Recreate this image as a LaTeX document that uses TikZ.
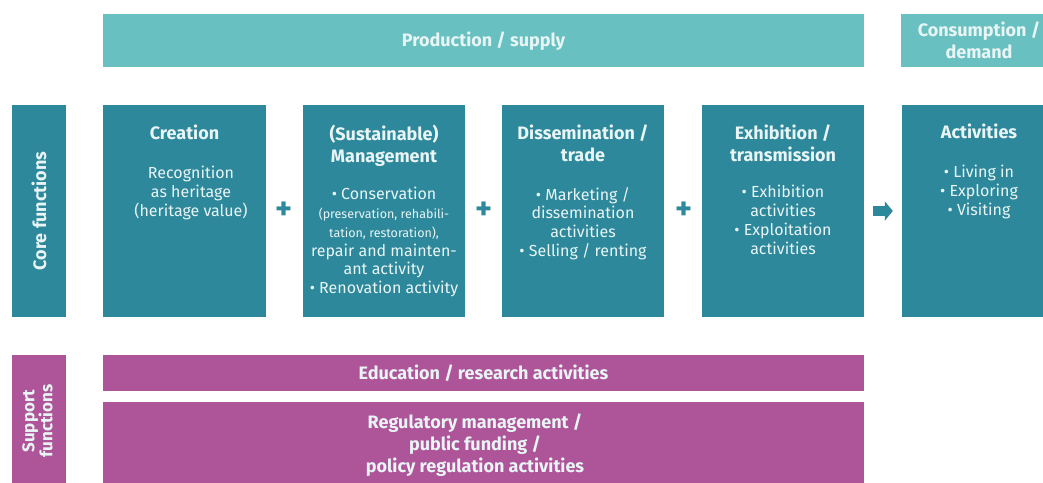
\documentclass[tikz,border=0pt]{standalone}
\usepackage{fontspec}
\setmainfont{Fira Sans}
\usetikzlibrary{positioning,arrows.meta}
\definecolor{lightteal}{HTML}{69C0C1}
\definecolor{darkteal}{HTML}{2D889B}
\definecolor{supportpink}{HTML}{AE5499}
\definecolor{paletext}{HTML}{E9F5F5}
\begin{document}
\begin{tikzpicture}[x = 1pt, y = -1pt,
    bar/.style = {fill = lightteal, inner sep = 0pt},
    corebox/.style = {fill = darkteal, inner sep = 0pt, minimum height = 212pt},
    supbar/.style = {fill = supportpink, inner sep = 0pt},
    headtext/.style = {text = paletext, inner sep = 0pt, align = center, font = \bfseries\fontsize{18}{22}\selectfont},
    bodytext/.style = {text = paletext, inner sep = 0pt, align = center, font = \fontsize{16}{18.8}\selectfont},
    plussign/.style = {text = darkteal, inner sep = 0pt, font = \bfseries\fontsize{32}{32}\selectfont}]
    \useasboundingbox (0,0) rectangle (1043,482);
    \clip (0,0) rectangle (1043,482);
    \node[bar, minimum width = 761pt, minimum height = 53pt] (supply) at (483.5,40.5) {};
    \node[headtext] at (483.5,41.5) {Production / supply};
    \node[bar, minimum width = 156pt, minimum height = 53pt] (demand) at (979,40.5) {};
    \node[headtext] at (demand) {Consumption /\\demand};
    \node[corebox, minimum width = 54pt] (core) at (39,211) {};
    \node[headtext, rotate = 90] at (core) {Core functions};
    \node[corebox, minimum width = 163pt] (creation) at (184.5,211) {};
    \node[corebox, minimum width = 162pt] (management) at (384,211) {};
    \node[corebox, minimum width = 162pt] (dissemination) at (583,211) {};
    \node[corebox, minimum width = 162pt] (exhibition) at (783,211) {};
    \node[corebox, minimum width = 156pt] (activities) at (980,211) {};
    \node[headtext, anchor = north] at (184.5,125) {Creation};
    \node[headtext, anchor = north] at (384,125) {(Sustainable)\\Management};
    \node[headtext, anchor = north] at (583,125) {Dissemination /\\trade};
    \node[headtext, anchor = north] at (783,125) {Exhibition /\\transmission};
    \node[headtext, anchor = north] at (979,124) {Activities};
    \node[bodytext, anchor = north] at (191,166) {Recognition\\as heritage\\(heritage value)};
    \node[bodytext, anchor = north] at (384,187) {• Conservation\\{\fontsize{12.5}{18.6}\selectfont(preservation, rehabili-}\\{\fontsize{12.5}{18.6}\selectfont tation, restoration),}\\repair and mainten-\\ant activity\\• Renovation activity};
    \node[bodytext, anchor = north] at (583,187) {• Marketing /\\dissemination\\activities\\• Selling / renting};
    \node[bodytext, anchor = north] at (783,185) {• Exhibition\\activities\\• Exploitation\\activities};
    \node[bodytext, anchor = north] at (979,165) {• Living in\\• Exploring\\• Visiting};
    \node[plussign] (plusa) at (284,211) {+};
    \node[plussign] (plusb) at (484,211) {+};
    \node[plussign] (plusc) at (684,211) {+};
    \draw[darkteal, line width = 10pt, -{Triangle[length = 8pt, width = 19pt]}, shorten < = 9pt, shorten > = 9pt] (exhibition) -- (activities);
    \node[supbar, minimum width = 54pt, minimum height = 132pt] (support) at (39,421) {};
    \node[headtext, rotate = 90, font = \bfseries\fontsize{17}{18}\selectfont] at (37.5,421) {Support\\functions};
    \node[supbar, minimum width = 761pt, minimum height = 36pt] (education) at (483.5,373) {};
    \node[headtext] at (education) {Education / research activities};
    \node[supbar, minimum width = 761pt, minimum height = 90pt] (regulation) at (483.5,447) {};
    \node[headtext, anchor = north] at (475,414) {Regulatory management /\\public funding /\\policy regulation activities};
\end{tikzpicture}
\end{document}
